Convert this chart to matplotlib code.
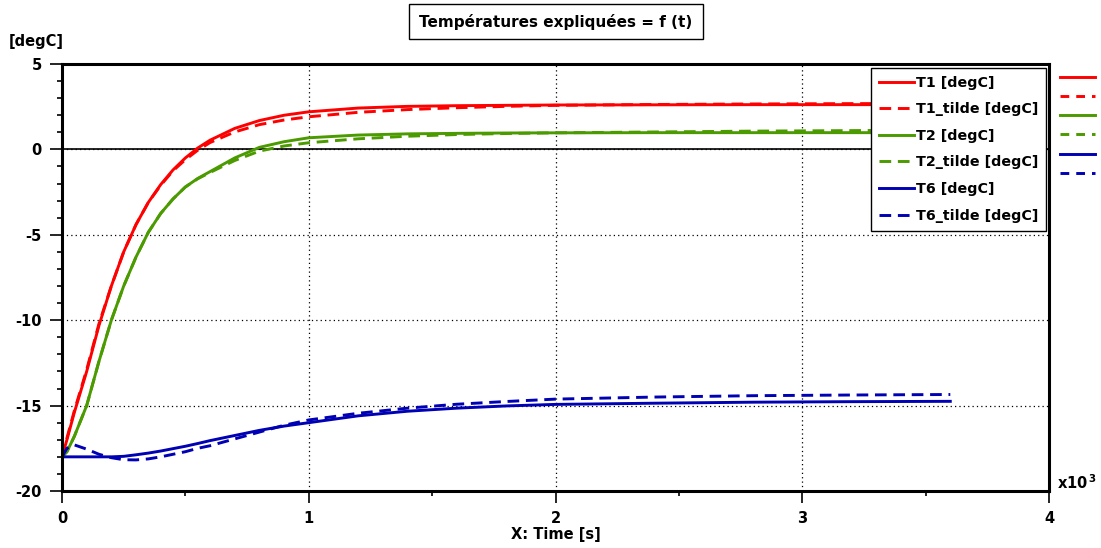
import matplotlib
matplotlib.use("Agg")
import matplotlib.pyplot as plt
from matplotlib.lines import Line2D
from matplotlib.ticker import MultipleLocator

# time in kiloseconds (axis is labelled x10^3 s)
t_ks = [0, 0.02, 0.05, 0.1, 0.15, 0.2, 0.25, 0.3, 0.35, 0.4, 0.45, 0.5, 0.55, 0.6,
        0.7, 0.8, 0.9, 1.0, 1.2, 1.4, 1.6, 1.8, 2.0, 2.4, 2.8, 3.2, 3.6]

T1 = [-18, -17.0, -15.4, -13.0, -10.3, -8.0, -6.0, -4.4, -3.1, -2.06, -1.2, -0.5, 0.08, 0.54,
      1.23, 1.69, 2.0, 2.2, 2.42, 2.52, 2.56, 2.58, 2.6, 2.61, 2.62, 2.62, 2.62]
T1_tilde = [-18, -16.9, -15.3, -12.9, -10.2, -8.0, -6.0, -4.4, -3.1, -2.1, -1.25, -0.6, -0.05, 0.4,
            1.02, 1.45, 1.72, 1.91, 2.17, 2.33, 2.44, 2.52, 2.58, 2.63, 2.66, 2.68, 2.69]
T2 = [-18, -17.7, -16.8, -15.0, -12.4, -10.0, -8.0, -6.3, -4.85, -3.75, -2.9, -2.2, -1.7, -1.3,
      -0.5, 0.12, 0.45, 0.68, 0.84, 0.91, 0.94, 0.96, 0.97, 0.98, 0.98, 0.98, 0.98]
T2_tilde = [-18, -17.7, -16.8, -15.0, -12.4, -10.0, -8.0, -6.3, -4.85, -3.75, -2.9, -2.2, -1.72, -1.35,
            -0.65, -0.1, 0.2, 0.39, 0.62, 0.77, 0.87, 0.93, 0.97, 1.02, 1.07, 1.1, 1.13]
T6 = [-18, -18, -18, -18, -18, -18.0, -17.97, -17.88, -17.78, -17.66, -17.52, -17.38, -17.22, -17.05,
      -16.75, -16.45, -16.2, -16.0, -15.6, -15.33, -15.15, -15.02, -14.93, -14.86, -14.8, -14.77, -14.75]
T6_tilde = [-18, -17.5, -17.3, -17.55, -17.85, -18.05, -18.17, -18.18, -18.12, -18.0, -17.85, -17.7, -17.5, -17.35,
            -16.95, -16.55, -16.15, -15.84, -15.45, -15.15, -14.92, -14.76, -14.62, -14.5, -14.42, -14.38, -14.35]

labels = ["T1 [degC]", "T1_tilde [degC]", "T2 [degC]", "T2_tilde [degC]", "T6 [degC]", "T6_tilde [degC]"]
series = [T1, T1_tilde, T2, T2_tilde, T6, T6_tilde]
colors = ["#ff0000", "#ff0000", "#4a9a00", "#4a9a00", "#0000b4", "#0000b4"]
dashed = [False, True, False, True, False, True]

plt.rcParams["font.family"] = "DejaVu Sans"
plt.rcParams["font.weight"] = "bold"
plt.rcParams["axes.unicode_minus"] = False

fig = plt.figure(figsize=(11.01, 5.48), dpi=100)
ax = fig.add_axes([62 / 1101, 57 / 548, 987 / 1101, 427 / 548])

dash_seq = (4.0, 2.3)
for y, lab, c, d in zip(series, labels, colors, dashed):
    line, = ax.plot(t_ks, y, color=c, lw=2.1, label=lab)
    if d:
        line.set_dashes(dash_seq)

ax.set_xlim(0, 4)
ax.set_ylim(-20, 5)
ax.xaxis.set_major_locator(MultipleLocator(1))
ax.xaxis.set_minor_locator(MultipleLocator(0.5))
ax.yaxis.set_major_locator(MultipleLocator(5))
ax.yaxis.set_minor_locator(MultipleLocator(1))
ax.tick_params(which="major", direction="out", length=8.6, width=1.2, labelsize=10.5, pad=6)
ax.tick_params(which="minor", direction="out", length=3.6, width=1.2)
for lab in ax.get_xticklabels() + ax.get_yticklabels():
    lab.set_fontweight("bold")

for s in ax.spines.values():
    s.set_linewidth(2.2)

ax.grid(True, which="major", color="black", linestyle=(0, (1, 2.5)), linewidth=0.9)
ax.axhline(0, color="black", lw=1.2, zorder=1.5)

leg = ax.legend(loc="upper right", bbox_to_anchor=(0.997, 0.991), borderaxespad=0,
                fontsize=10.3, handlelength=2.4, handletextpad=0.15, labelspacing=0.88,
                fancybox=False, framealpha=1, edgecolor="black", borderpad=0.55)
leg.get_frame().set_linewidth(1.0)
for txt in leg.get_texts():
    txt.set_fontweight("bold")

# short colour keys to the right of the plot area
for i, (c, d) in enumerate(zip(colors, dashed)):
    yk = 0.9696 - i * 0.0449
    key = Line2D([1.011, 1.0466], [yk, yk], transform=ax.transAxes, color=c, lw=2.1, clip_on=False)
    if d:
        key.set_dashes((3.0, 2.4))
    ax.add_line(key)

fig.text(556 / 1101, 1 - 21.5 / 548, "Températures expliquées = f (t)", ha="center", va="center",
         fontsize=11, fontweight="bold",
         bbox=dict(boxstyle="square,pad=0.65", facecolor="white", edgecolor="black", linewidth=1.0))
fig.text(36 / 1101, 1 - 41.5 / 548, "[degC]", ha="center", va="center", fontsize=10.5, fontweight="bold")
fig.text(556 / 1101, 1 - 534 / 548, "X: Time [s]", ha="center", va="center", fontsize=10.5, fontweight="bold")
fig.text(1057 / 1101, 1 - 483 / 548, r"x10$^{\,3}$", ha="left", va="center", fontsize=10.5, fontweight="bold")

fig.savefig("out.png", dpi=100)
